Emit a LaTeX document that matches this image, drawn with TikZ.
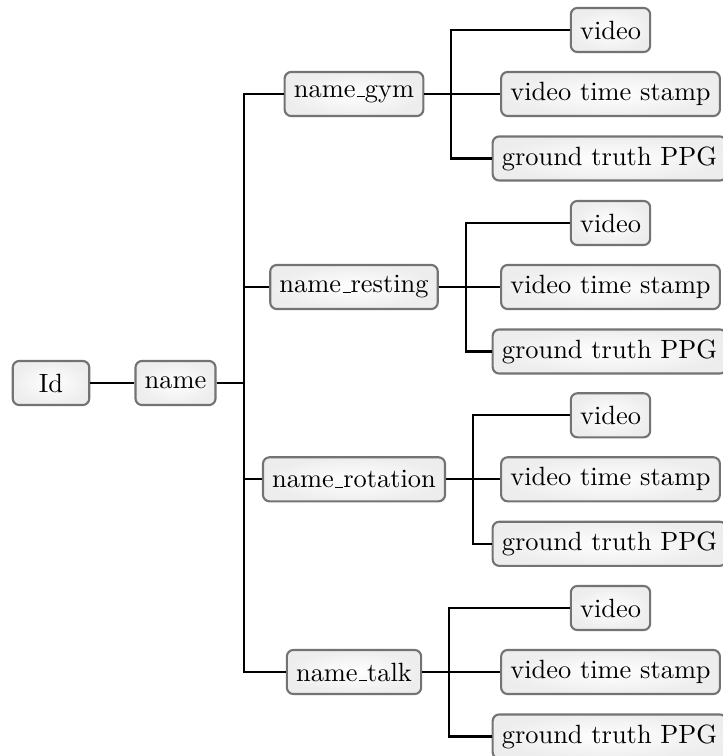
\documentclass[tikz,border=0pt]{standalone}
\newcommand\usc{\leavevmode\kern.06em\vbox{\hrule width .3em}}
\begin{document}
\begin{tikzpicture}[x=0.3788pt,y=-0.3788pt,
  box/.style={draw=black!55,line width=0.8pt,rounded corners=2.5pt,
    inner color=white,outer color=black!7,
    minimum height=16.7pt,inner xsep=3.5pt,inner ysep=0pt},
  conn/.style={line width=0.8pt,black}]
\useasboundingbox (0,0) rectangle (722,756);
\node[box,minimum width=29pt] (id) at (51,383) {Id};
\node[box] (name) at (175.5,383) {name};
\foreach \n/\t/\y in {gym/name\usc gym/94, rest/name\usc resting/287, rot/name\usc rotation/479.3, talk/name\usc talk/672}{
  \node[box] (\n) at (354,\y) {\t};
  \node[box] (\n v) at (610.5,\y-64) {video};
  \node[box] (\n s) at (610.5,\y) {video time stamp};
  \node[box] (\n g) at (609.5,\y+64.5) {ground truth PPG};
  \draw[conn] (\n.east) -- ++(27,0) |- (\n v.west);
  \draw[conn] (\n.east) -- ++(27,0) |- (\n s.west);
  \draw[conn] (\n.east) -- ++(27,0) |- (\n g.west);
  \draw[conn] (name.east) -- ++(27,0) |- (\n.west);
}
\draw[conn] (id) -- (name);
\end{tikzpicture}
\end{document}
